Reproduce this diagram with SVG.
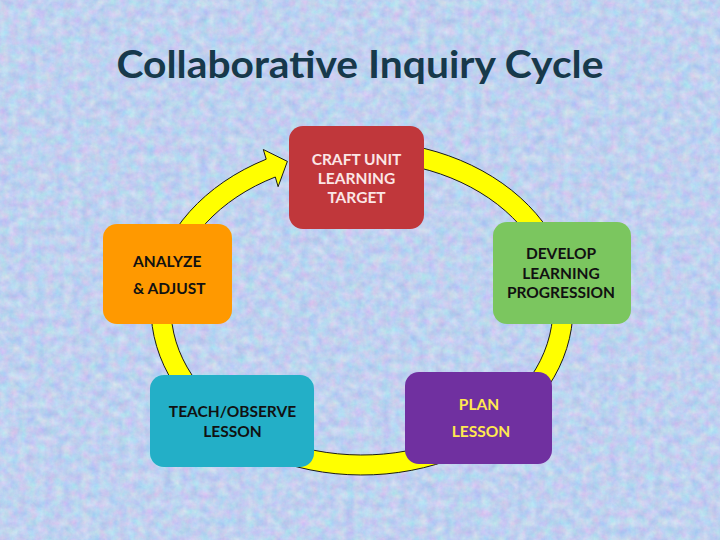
<svg xmlns="http://www.w3.org/2000/svg" width="720" height="540" viewBox="0 0 720 540">
<defs>
<filter id="tex" x="0" y="0" width="100%" height="100%" color-interpolation-filters="sRGB">
<feTurbulence type="fractalNoise" baseFrequency="0.11" numOctaves="4" seed="3" result="n"/>
<feColorMatrix in="n" type="matrix" values="0.26 0 0 0 0.62  0 0.2 0 0 0.72  0 0 0.08 0 0.9  0 0 0 0 1"/>
</filter>
<style>
.node text{font-family:Lato,"Open Sans","Liberation Sans",sans-serif;font-weight:bold;font-size:15.5px;text-anchor:middle}
.dark{fill:#111111}
.ring{fill:#FFFF00;stroke:#1a1a1a;stroke-width:1}
</style>
</defs>
<rect width="720" height="540" fill="#C0D6F2"/>
<rect width="720" height="540" filter="url(#tex)"/>
<text x="360" y="78" text-anchor="middle" font-family="Lato,'Open Sans','Liberation Sans',sans-serif" font-weight="bold" font-size="38" fill="#17394B" textLength="487" lengthAdjust="spacingAndGlyphs">Collaborative Inquiry Cycle</text>
<g id="connectors">
<path class="ring" d="M362,141 A211,167 0 1 1 266.2,159.2 L263.3,149.5 L287.4,161.4 L278.1,186.7 L275.3,177 A191,147 0 1 0 362,161 Z"/>
</g>
<g id="craft" class="node">
<rect x="289" y="126" width="135" height="103" rx="14" fill="#C0373B"/>
<text fill="#FBE6E6"><tspan x="356.5" y="165">CRAFT UNIT</tspan><tspan x="356.5" y="184">LEARNING</tspan><tspan x="356.5" y="203">TARGET</tspan></text>
</g>
<g id="develop" class="node">
<rect x="493" y="222" width="138" height="102" rx="14" fill="#7BC65F"/>
<text class="dark"><tspan x="561" y="259">DEVELOP</tspan><tspan x="561" y="279">LEARNING</tspan><tspan x="561" y="298">PROGRESSION</tspan></text>
</g>
<g id="plan" class="node">
<rect x="405" y="372" width="147" height="92" rx="14" fill="#7030A0"/>
<text fill="#FFE84F"><tspan x="479" y="410">PLAN</tspan><tspan x="481" y="437">LESSON</tspan></text>
</g>
<g id="teach" class="node">
<rect x="150" y="375" width="164" height="92" rx="14" fill="#23AFC7"/>
<text class="dark"><tspan x="232.5" y="417">TEACH/OBSERVE</tspan><tspan x="232.5" y="437">LESSON</tspan></text>
</g>
<g id="analyze" class="node">
<rect x="103" y="224" width="129" height="100" rx="14" fill="#FF9900"/>
<text class="dark" style="text-anchor:start"><tspan x="133" y="267">ANALYZE</tspan><tspan x="133" y="294">&amp; ADJUST</tspan></text>
</g>
</svg>
